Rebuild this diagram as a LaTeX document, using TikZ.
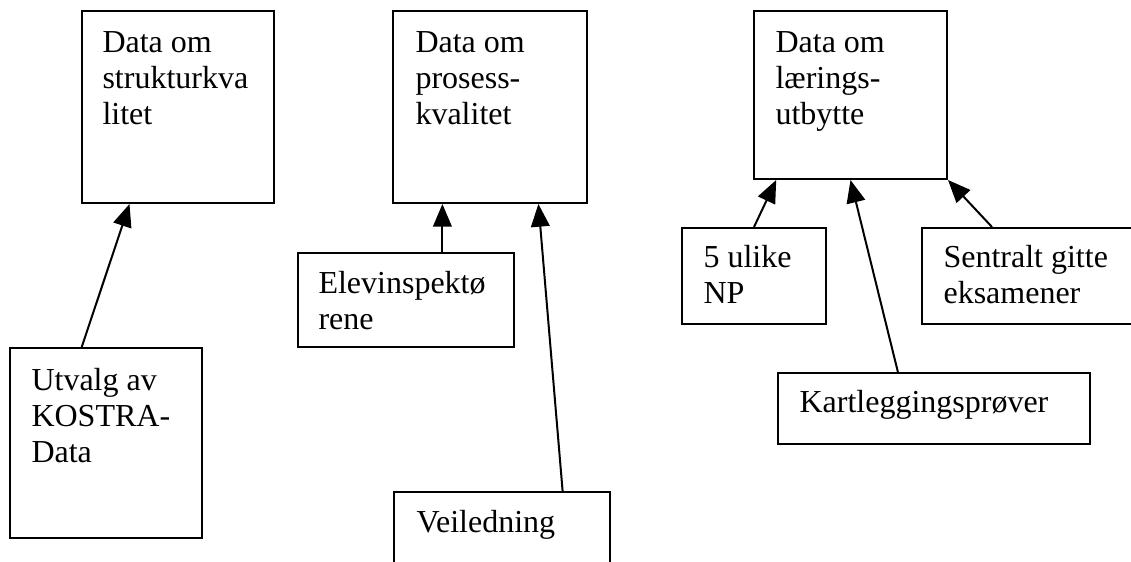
\documentclass[tikz,border=0pt]{standalone}
\usepackage{fontspec}
\setmainfont{Liberation Serif}
\usetikzlibrary{arrows.meta,calc,fit}
\newcommand{\mylines}[1]{\parbox[t]{8cm}{\raggedright\fontsize{12}{13.5}\selectfont #1}}
\begin{document}
\begin{tikzpicture}[x=0.375pt,y=-0.375pt,
  box/.style={draw,line width=0.75pt,inner sep=0pt},
  txt/.style={anchor=base west,inner sep=0pt},
  arr/.style={line width=0.75pt,-{Triangle[length=8.5pt,width=7pt]}}]
\useasboundingbox (0,0) rectangle (1131,561);
\clip (0,0) rectangle (1131,561);
% boxes
\node[box,fit={(82,11) (274,203)}] (A) {};
\node[box,fit={(393,11) (587,203)}] (B) {};
\node[box,fit={(754,11) (947,179)}] (C) {};
\node[box,fit={(10,348) (202,538)}] (U) {};
\node[box,fit={(298,253) (514,347)}] (E) {};
\node[box,fit={(394,492) (610,590)}] (V) {};
\node[box,fit={(682,228) (826,324)}] (N) {};
\node[box,fit={(922,228) (1150,324)}] (S) {};
\node[box,fit={(778,373) (1090,444)}] (K) {};
% texts
\node[txt] (At) at (102,52) {\mylines{Data om\\strukturkva\\litet}};
\node[txt] (Bt) at (415,52) {\mylines{Data om\\prosess-\\kvalitet}};
\node[txt] (Ct) at (775,52) {\mylines{Data om\\lærings-\\utbytte}};
\node[txt] (Ut) at (31,390) {\mylines{Utvalg av\\KOSTRA-\\Data}};
\node[txt] (Et) at (318,293) {\mylines{Elevinspektø\\rene}};
\node[txt] (Vt) at (416,532) {\mylines{Veiledning}};
\node[txt] (Nt) at (703,267) {\mylines{5 ulike\\NP}};
\node[txt] (St) at (943,267) {\mylines{Sentralt gitte\\eksamener}};
\node[txt] (Kt) at (799,412) {\mylines{Kartleggingsprøver}};
% connectors
\coordinate (Etop) at ($(E.north west)!0.667!(E.north east)$);
\draw[arr] ($(U.north west)!0.375!(U.north east)$) -- ($(A.south west)!0.25!(A.south east)$);
\draw[arr] (Etop) -- (Etop |- B.south);
\draw[arr] ($(V.north west)!0.778!(V.north east)$) -- ($(B.south west)!0.747!(B.south east)$);
\draw[arr] (N.north) -- ($(C.south west)!0.119!(C.south east)$);
\draw[arr] ($(K.north west)!0.385!(K.north east)$) -- (C.south);
\draw[arr] ($(S.north west)+(71,0)$) -- (C.south east);
\end{tikzpicture}
\end{document}
